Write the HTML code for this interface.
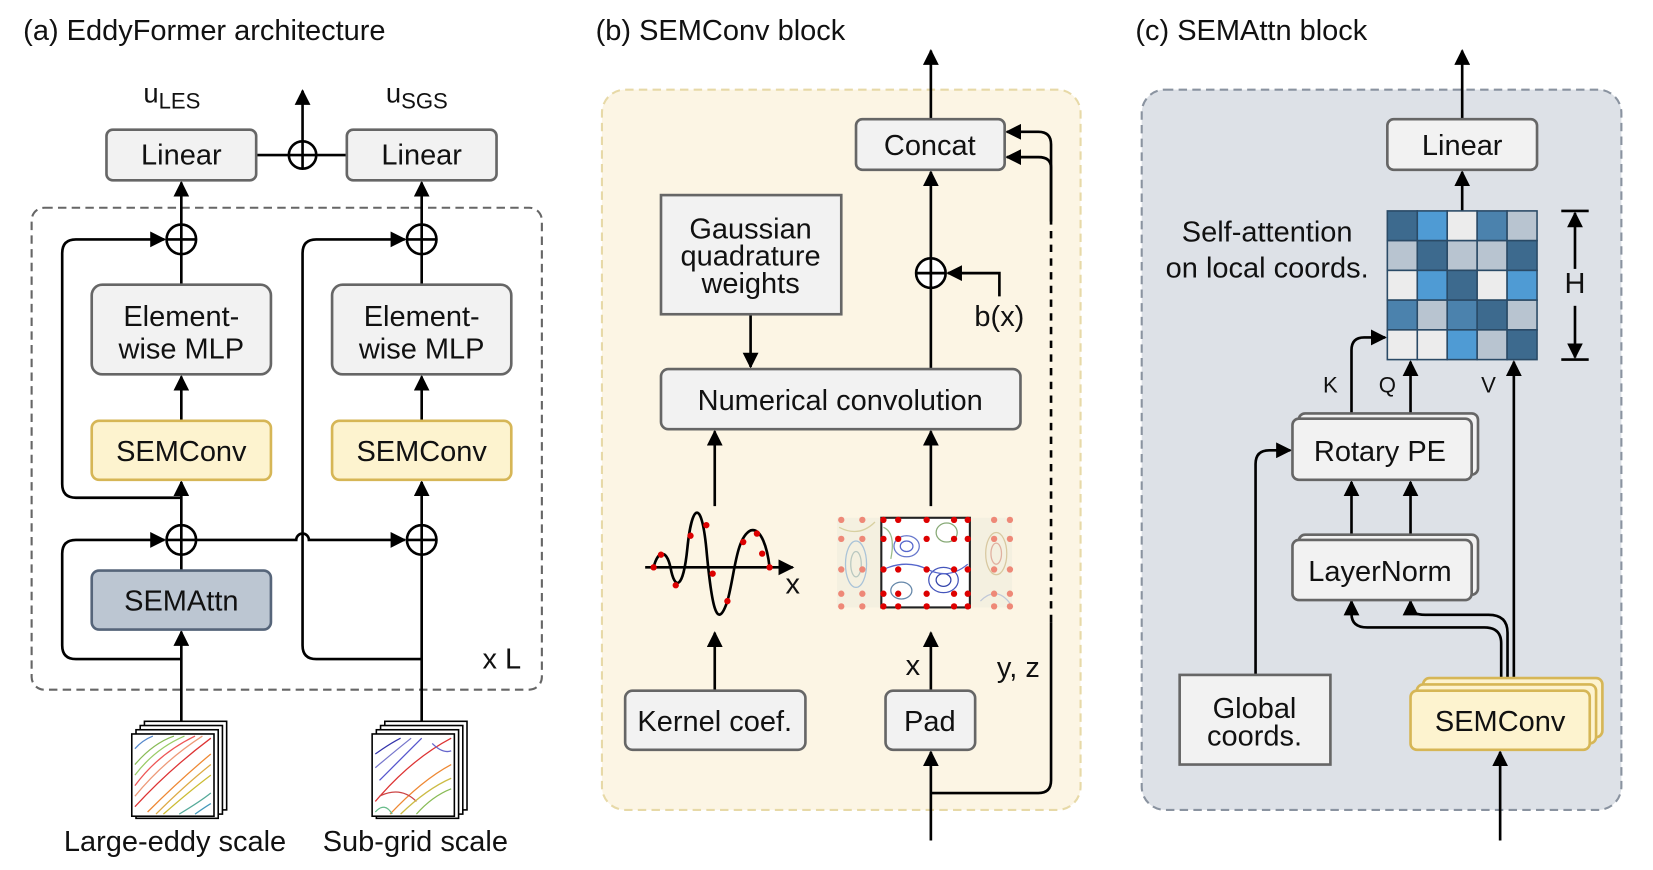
<!DOCTYPE html>
<html><head><meta charset="utf-8"><style>
html,body{margin:0;padding:0;background:#fff;}
svg{display:block;}
text{font-family:"Liberation Sans",Arial,sans-serif;fill:#111;}
</style></head><body>
<svg width="1653" height="870" viewBox="0 0 1568 825" preserveAspectRatio="none" xmlns="http://www.w3.org/2000/svg">
<defs>
<marker id="ar" viewBox="0 0 10 10" refX="9" refY="5" markerWidth="6" markerHeight="6" orient="auto"><path d="M0,0L10,5L0,10z" fill="#000"/></marker>
</defs>
<g font-size="27.5">
<text x="22" y="38">(a) EddyFormer architecture</text>
<text x="565" y="38">(b) SEMConv block</text>
<text x="1077" y="38">(c) SEMAttn block</text>
</g>

<text x="136" y="97" font-size="26">u<tspan font-size="21" dy="6">LES</tspan></text>
<text x="366" y="97" font-size="26">u<tspan font-size="21" dy="6">SGS</tspan></text>
<rect x="30" y="197" width="484" height="457" rx="12" fill="none" stroke="#666" stroke-width="2" stroke-dasharray="8,5"/>
<g stroke="#000" stroke-width="2.5" fill="none">
<line x1="243" y1="147" x2="329" y2="147"/>
<line x1="287" y1="134" x2="287" y2="86" marker-end="url(#ar)"/>
<circle cx="287" cy="147" r="13" fill="#fff"/><line x1="274" y1="147" x2="300" y2="147"/><line x1="287" y1="134" x2="287" y2="160"/>
<line x1="172" y1="213" x2="172" y2="173" marker-end="url(#ar)"/>
<line x1="172" y1="270" x2="172" y2="241"/>
<line x1="172" y1="399" x2="172" y2="357" marker-end="url(#ar)"/>
<line x1="172" y1="498" x2="172" y2="457" marker-end="url(#ar)"/>
<line x1="172" y1="541" x2="172" y2="526"/>
<line x1="172" y1="685" x2="172" y2="599" marker-end="url(#ar)"/>
<path d="M172,472 H72 Q59,472 59,459 V240 Q59,227 72,227 H156" marker-end="url(#ar)"/>
<path d="M172,625 H72 Q59,625 59,612 V525 Q59,512 72,512 H156" marker-end="url(#ar)"/>
<path d="M186,512 H281 A6,6 0 0 1 293,512 H384" marker-end="url(#ar)"/>
<line x1="400" y1="213" x2="400" y2="173" marker-end="url(#ar)"/>
<line x1="400" y1="270" x2="400" y2="241"/>
<line x1="400" y1="399" x2="400" y2="357" marker-end="url(#ar)"/>
<line x1="400" y1="498" x2="400" y2="457" marker-end="url(#ar)"/>
<line x1="400" y1="685" x2="400" y2="526"/>
<path d="M400,625 H300 Q287,625 287,612 V240 Q287,227 300,227 H384" marker-end="url(#ar)"/>
</g>
<g stroke="#000" stroke-width="2.5" fill="#fff">
<circle cx="172" cy="227" r="14"/><circle cx="400" cy="227" r="14"/>
<circle cx="172" cy="512" r="14"/><circle cx="400" cy="512" r="14"/>
</g>
<g stroke="#000" stroke-width="2.5">
<path d="M158,227H186M172,213V241M386,227H414M400,213V241M158,512H186M172,498V526M386,512H414M400,498V526"/>
</g>
<g stroke="#666" stroke-width="2.5">
<rect x="101" y="123" width="142" height="48" rx="6" fill="#f2f2f2"/>
<rect x="329" y="123" width="142" height="48" rx="6" fill="#f2f2f2"/>
<rect x="87" y="270" width="170" height="85" rx="10" fill="#f2f2f2"/>
<rect x="315" y="270" width="170" height="85" rx="10" fill="#f2f2f2"/>
<rect x="87" y="399" width="170" height="56" rx="7" fill="#fdf3cf" stroke="#d6b656"/>
<rect x="315" y="399" width="170" height="56" rx="7" fill="#fdf3cf" stroke="#d6b656"/>
<rect x="87" y="541" width="170" height="56" rx="7" fill="#bcc6d2" stroke="#56657a"/>
</g>
<g font-size="27.5" text-anchor="middle">
<text x="172" y="156">Linear</text><text x="400" y="156">Linear</text>
<text x="172" y="309">Element-</text><text x="172" y="340">wise MLP</text>
<text x="400" y="309">Element-</text><text x="400" y="340">wise MLP</text>
<text x="172" y="437">SEMConv</text><text x="400" y="437">SEMConv</text>
<text x="172" y="579">SEMAttn</text>
<text x="476" y="634">x L</text>
<text x="166" y="807">Large-eddy scale</text><text x="394" y="807">Sub-grid scale</text>
</g>
<g stroke="#000" stroke-width="1.5" fill="#fff">
<rect x="137" y="684" width="78" height="84"/><rect x="133" y="688" width="78" height="84"/><rect x="129" y="692" width="78" height="84"/><rect x="125" y="696" width="78" height="78"/>
<rect x="365" y="684" width="78" height="84"/><rect x="361" y="688" width="78" height="84"/><rect x="357" y="692" width="78" height="84"/><rect x="353" y="696" width="78" height="78"/>
</g>
<g fill="none" stroke-width="1.2">
<path d="M128,765 Q160,730 200,700" stroke="#d33"/><path d="M140,770 Q170,740 200,715" stroke="#e83"/><path d="M155,772 Q180,750 200,735" stroke="#cb3"/><path d="M128,745 Q150,715 185,698" stroke="#e55"/><path d="M128,725 Q145,705 165,698" stroke="#8b5"/><path d="M128,710 Q135,702 145,698" stroke="#58c"/><path d="M170,772 Q190,760 200,752" stroke="#5a9"/>
<path d="M128,755 Q155,722 192,698" stroke="#e97"/><path d="M128,735 Q147,710 175,698" stroke="#9c6"/><path d="M148,772 Q175,745 200,725" stroke="#da4"/><path d="M185,772 Q195,765 200,762" stroke="#49b"/>
<path d="M356,760 Q390,720 428,700" stroke="#d33"/><path d="M360,740 Q380,720 400,700" stroke="#55c"/><path d="M370,772 Q400,740 428,725" stroke="#e83"/><path d="M356,715 Q370,705 380,700" stroke="#33a"/><path d="M395,772 Q410,755 428,748" stroke="#8b5"/><path d="M360,755 Q380,745 395,760" stroke="#c44"/><path d="M410,705 Q420,715 428,712" stroke="#66c"/>
<path d="M356,728 Q375,712 390,700" stroke="#77c"/><path d="M380,772 Q405,748 428,738" stroke="#cb4"/><path d="M356,770 Q365,760 372,772" stroke="#6b8"/>
</g>

<rect x="571" y="85" width="454" height="683" rx="22" fill="#fcf5e4" stroke="#e7d9a7" stroke-width="2" stroke-dasharray="8,5"/>
<g stroke="#000" stroke-width="2.5" fill="none">
<line x1="883" y1="113" x2="883" y2="48" marker-end="url(#ar)"/>
<line x1="883" y1="245" x2="883" y2="163" marker-end="url(#ar)"/>
<line x1="883" y1="350" x2="883" y2="273"/>
<path d="M948,281 V259 H899" marker-end="url(#ar)"/>
<line x1="712" y1="298" x2="712" y2="348" marker-end="url(#ar)"/>
<line x1="678" y1="480" x2="678" y2="409" marker-end="url(#ar)"/>
<line x1="883" y1="480" x2="883" y2="409" marker-end="url(#ar)"/>
<line x1="678" y1="655" x2="678" y2="600" marker-end="url(#ar)"/>
<line x1="883" y1="655" x2="883" y2="600" marker-end="url(#ar)"/>
<line x1="883" y1="797" x2="883" y2="713" marker-end="url(#ar)"/>
<path d="M883,752 H985 Q997,752 997,740 V590"/>
<path d="M997,590 V210" stroke-dasharray="7,6"/>
<path d="M997,210 V137 Q997,125 985,125 H955" marker-end="url(#ar)"/>
<path d="M997,210 V159 Q997,149 985,149 H955" marker-end="url(#ar)"/>
</g>
<circle cx="883" cy="259" r="14" fill="#fff" stroke="#000" stroke-width="2.5"/>
<path d="M869,259H897M883,245V273" stroke="#000" stroke-width="2.5"/>
<g stroke="#666" stroke-width="2.5" fill="#f2f2f2">
<rect x="812" y="113" width="141" height="48" rx="6"/>
<rect x="627" y="185" width="171" height="113"/>
<rect x="627" y="350" width="341" height="57" rx="7"/>
<rect x="593" y="655" width="171" height="56" rx="7"/>
<rect x="840" y="655" width="85" height="56" rx="7"/>
</g>
<g font-size="27.5" text-anchor="middle">
<text x="882" y="147">Concat</text>
<text x="712" y="226">Gaussian</text><text x="712" y="252">quadrature</text><text x="712" y="278">weights</text>
<text x="797" y="389">Numerical convolution</text>
<text x="678" y="693">Kernel coef.</text><text x="882" y="693">Pad</text>
<text x="948" y="309">b(x)</text>
<text x="866" y="640">x</text><text x="966" y="642">y, z</text>
<text x="752" y="563">x</text>
</g>
<line x1="612" y1="538" x2="752" y2="538" stroke="#000" stroke-width="2.5" marker-end="url(#ar)"/>
<path d="M620,538 C624,522 632,520 636,538 C640,560 648,560 652,520 C656,480 665,470 670,520 C675,575 680,600 690,570 C697,545 698,510 712,503 C722,500 728,520 730,538" fill="none" stroke="#000" stroke-width="2.5"/>
<g fill="#d00">
<circle cx="620" cy="538" r="3"/><circle cx="627" cy="526" r="3"/><circle cx="641" cy="555" r="3"/><circle cx="655" cy="508" r="3"/><circle cx="670" cy="498" r="3"/><circle cx="676" cy="544" r="3"/><circle cx="690" cy="570" r="3"/><circle cx="705" cy="514" r="3"/><circle cx="718" cy="506" r="3"/><circle cx="723" cy="525" r="3"/><circle cx="730" cy="538" r="3"/>
</g>
<rect x="794" y="491" width="166" height="85" fill="#f4f0e0"/>
<rect x="836" y="491" width="84" height="85" fill="#fff"/>
<g fill="none" stroke-width="1.2">
<ellipse cx="812" cy="535" rx="10" ry="22" stroke="#a9c3d8"/><ellipse cx="812" cy="535" rx="5" ry="12" stroke="#b9c8c0"/><ellipse cx="945" cy="525" rx="10" ry="20" stroke="#d8c8a0"/><ellipse cx="945" cy="525" rx="5" ry="10" stroke="#e0b0a0"/>
<path d="M796,500 Q815,510 830,495" stroke="#d8d0a0"/><path d="M930,570 Q945,555 958,572" stroke="#c0c8d8"/>
<ellipse cx="860" cy="518" rx="12" ry="10" stroke="#6677cc"/><ellipse cx="895" cy="550" rx="14" ry="12" stroke="#4455bb"/><ellipse cx="898" cy="505" rx="10" ry="9" stroke="#88aa77"/><ellipse cx="855" cy="560" rx="10" ry="8" stroke="#6688aa"/>
<ellipse cx="895" cy="550" rx="7" ry="6" stroke="#3344aa"/><ellipse cx="860" cy="518" rx="6" ry="5" stroke="#5566cc"/>
<path d="M838,540 Q860,530 880,540 T918,535" stroke="#5566cc"/><path d="M838,500 Q850,505 845,530" stroke="#99bb88"/>
</g>
<rect x="836" y="491" width="84" height="85" fill="none" stroke="#222" stroke-width="2"/>
<g fill="#d00">
<circle cx="838" cy="493" r="3"/><circle cx="852" cy="493" r="3"/><circle cx="879" cy="493" r="3"/><circle cx="905" cy="493" r="3"/><circle cx="918" cy="493" r="3"/>
<circle cx="838" cy="511" r="3"/><circle cx="852" cy="511" r="3"/><circle cx="879" cy="511" r="3"/><circle cx="905" cy="511" r="3"/><circle cx="918" cy="511" r="3"/>
<circle cx="838" cy="540" r="3"/><circle cx="852" cy="540" r="3"/><circle cx="879" cy="540" r="3"/><circle cx="905" cy="540" r="3"/><circle cx="918" cy="540" r="3"/>
<circle cx="838" cy="563" r="3"/><circle cx="852" cy="563" r="3"/><circle cx="879" cy="563" r="3"/><circle cx="905" cy="563" r="3"/><circle cx="918" cy="563" r="3"/>
<circle cx="838" cy="575" r="3"/><circle cx="852" cy="575" r="3"/><circle cx="879" cy="575" r="3"/><circle cx="905" cy="575" r="3"/><circle cx="918" cy="575" r="3"/>
</g>
<g fill="#ee8877">
<circle cx="798" cy="493" r="3"/><circle cx="818" cy="493" r="3"/><circle cx="943" cy="493" r="3"/><circle cx="958" cy="493" r="3"/>
<circle cx="798" cy="511" r="3"/><circle cx="818" cy="511" r="3"/><circle cx="943" cy="511" r="3"/><circle cx="958" cy="511" r="3"/>
<circle cx="798" cy="540" r="3"/><circle cx="818" cy="540" r="3"/><circle cx="943" cy="540" r="3"/><circle cx="958" cy="540" r="3"/>
<circle cx="798" cy="563" r="3"/><circle cx="818" cy="563" r="3"/><circle cx="943" cy="563" r="3"/><circle cx="958" cy="563" r="3"/>
<circle cx="798" cy="575" r="3"/><circle cx="818" cy="575" r="3"/><circle cx="943" cy="575" r="3"/><circle cx="958" cy="575" r="3"/>
</g>

<rect x="1083" y="85" width="455" height="683" rx="22" fill="#dde1e7" stroke="#8a93a0" stroke-width="2" stroke-dasharray="8,5"/>
<g stroke="#000" stroke-width="2.5" fill="none">
<line x1="1387" y1="113" x2="1387" y2="48" marker-end="url(#ar)"/>
<line x1="1387" y1="200" x2="1387" y2="163" marker-end="url(#ar)"/>
<path d="M1282,397 V332 Q1282,320 1294,320 H1314" marker-end="url(#ar)"/>
<line x1="1338" y1="397" x2="1338" y2="343" marker-end="url(#ar)"/>
<line x1="1436" y1="645" x2="1436" y2="343" marker-end="url(#ar)"/>
<line x1="1282" y1="512" x2="1282" y2="457" marker-end="url(#ar)"/>
<line x1="1338" y1="512" x2="1338" y2="457" marker-end="url(#ar)"/>
<path d="M1191,640 V440 Q1191,427 1204,427 H1224" marker-end="url(#ar)"/>
<path d="M1424,655 V610 Q1424,595 1408,595 H1297 Q1282,595 1282,582 V570" marker-end="url(#ar)"/>
<path d="M1430,655 V600 Q1430,583 1412,583 H1352 Q1338,583 1338,575 V570" marker-end="url(#ar)"/>
<line x1="1423" y1="797" x2="1423" y2="713" marker-end="url(#ar)"/>
<line x1="1494" y1="255" x2="1494" y2="202" marker-end="url(#ar)"/>
<line x1="1494" y1="290" x2="1494" y2="339" marker-end="url(#ar)"/>
<path d="M1481,200H1507M1481,341H1507"/>
</g>
<g stroke="#2a4a66" stroke-width="1.5">
<rect x="1316" y="200" width="28.4" height="28.2" fill="#3d6a8e"/><rect x="1344.4" y="200" width="28.4" height="28.2" fill="#4f9bd4"/><rect x="1372.8" y="200" width="28.4" height="28.2" fill="#ececec"/><rect x="1401.2" y="200" width="28.4" height="28.2" fill="#4b82ad"/><rect x="1429.6" y="200" width="28.4" height="28.2" fill="#b8c4d0"/>
<rect x="1316" y="228.2" width="28.4" height="28.2" fill="#b8c4d0"/><rect x="1344.4" y="228.2" width="28.4" height="28.2" fill="#3d6a8e"/><rect x="1372.8" y="228.2" width="28.4" height="28.2" fill="#b8c4d0"/><rect x="1401.2" y="228.2" width="28.4" height="28.2" fill="#b8c4d0"/><rect x="1429.6" y="228.2" width="28.4" height="28.2" fill="#3d6a8e"/>
<rect x="1316" y="256.4" width="28.4" height="28.2" fill="#ececec"/><rect x="1344.4" y="256.4" width="28.4" height="28.2" fill="#4f9bd4"/><rect x="1372.8" y="256.4" width="28.4" height="28.2" fill="#3d6a8e"/><rect x="1401.2" y="256.4" width="28.4" height="28.2" fill="#ececec"/><rect x="1429.6" y="256.4" width="28.4" height="28.2" fill="#4f9bd4"/>
<rect x="1316" y="284.6" width="28.4" height="28.2" fill="#4b82ad"/><rect x="1344.4" y="284.6" width="28.4" height="28.2" fill="#b8c4d0"/><rect x="1372.8" y="284.6" width="28.4" height="28.2" fill="#4b82ad"/><rect x="1401.2" y="284.6" width="28.4" height="28.2" fill="#3d6a8e"/><rect x="1429.6" y="284.6" width="28.4" height="28.2" fill="#b8c4d0"/>
<rect x="1316" y="312.8" width="28.4" height="28.2" fill="#ececec"/><rect x="1344.4" y="312.8" width="28.4" height="28.2" fill="#ececec"/><rect x="1372.8" y="312.8" width="28.4" height="28.2" fill="#4f9bd4"/><rect x="1401.2" y="312.8" width="28.4" height="28.2" fill="#b8c4d0"/><rect x="1429.6" y="312.8" width="28.4" height="28.2" fill="#3d6a8e"/>
</g>
<g stroke="#666" stroke-width="2.5" fill="#f2f2f2">
<rect x="1316" y="113" width="142" height="48" rx="6"/>
<rect x="1232" y="392" width="170" height="58" rx="6"/>
<rect x="1226" y="397" width="170" height="58" rx="6"/>
<rect x="1232" y="507" width="170" height="57" rx="6"/>
<rect x="1226" y="512" width="170" height="57" rx="6"/>
<rect x="1119" y="640" width="143" height="85"/>
<rect x="1350" y="643" width="170" height="56" rx="6" fill="#fdf3cf" stroke="#d6b656"/>
<rect x="1344" y="649" width="170" height="56" rx="6" fill="#fdf3cf" stroke="#d6b656"/>
<rect x="1338" y="655" width="170" height="56" rx="6" fill="#fdf3cf" stroke="#d6b656"/>
</g>
<g font-size="27.5" text-anchor="middle">
<text x="1387" y="147">Linear</text>
<text x="1202" y="229">Self-attention</text><text x="1202" y="263">on local coords.</text>
<text x="1494" y="278">H</text>
<text x="1309" y="437">Rotary PE</text>
<text x="1309" y="551">LayerNorm</text>
<text x="1190" y="681">Global</text><text x="1190" y="707">coords.</text>
<text x="1423" y="693">SEMConv</text>
</g>
<g font-size="21" text-anchor="middle">
<text x="1262" y="372">K</text><text x="1316" y="372">Q</text><text x="1412" y="372">V</text>
</g>
</svg>
</body></html>
